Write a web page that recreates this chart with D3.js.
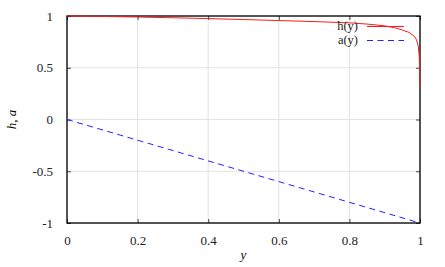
<!DOCTYPE html>
<html>
<head>
<meta charset="utf-8">
<script src="https://cdn.jsdelivr.net/npm/d3@7"></script>
<style>
  body { margin: 0; background: #fff; }
</style>
</head>
<body>
<script>
const width = 445
const height = 267
const margin = { top: 16, right: 25, bottom: 44, left: 67 }

// h(y)
const hX = [0, 0.1, 0.2, 0.3, 0.4, 0.5, 0.6, 0.7, 0.8, 0.85, 0.9, 0.93, 0.95, 0.97, 0.985, 0.99, 0.995, 0.998, 0.999, 1.0]
const hY = [1.0, 0.996, 0.99, 0.983, 0.975, 0.966, 0.956, 0.946, 0.934, 0.922, 0.905, 0.885, 0.865, 0.84, 0.80, 0.77, 0.71, 0.6, 0.45, 0.31]
// a(y) = -y
const aX = [0, 1]
const aY = [0, -1]

const xTicks = [0, 0.2, 0.4, 0.6, 0.8, 1]
const yTicks = [-1, -0.5, 0, 0.5, 1]

const svg = d3.select("body")
    .append("svg")
    .attr("width", width)
    .attr("height", height)

const w = width - margin.left - margin.right
const h = height - margin.top - margin.bottom

const x = d3.scaleLinear().domain([0, 1]).range([0, w])
const y = d3.scaleLinear().domain([-1, 1]).range([h, 0])

const chart = svg.append("g")
    .attr("transform", `translate(${margin.left},${margin.top})`)

// grid
chart.append("g")
    .selectAll("line")
    .data(xTicks)
    .join("line")
    .attr("x1", d => x(d)).attr("x2", d => x(d))
    .attr("y1", 0).attr("y2", h)
    .attr("stroke", "#e2e2e2")
chart.append("g")
    .selectAll("line")
    .data(yTicks)
    .join("line")
    .attr("x1", 0).attr("x2", w)
    .attr("y1", d => y(d)).attr("y2", d => y(d))
    .attr("stroke", "#e2e2e2")

// plain hyphen minus like the original
const fmt = d => String(d)
chart.append("g")
    .attr("transform", `translate(0,${h})`)
    .call(d3.axisBottom(x).tickValues(xTicks).tickFormat(fmt).tickSizeInner(-4).tickSizeOuter(0).tickPadding(13))
chart.append("g")
    .call(d3.axisTop(x).tickValues(xTicks).tickFormat("").tickSizeInner(-4).tickSizeOuter(0))
chart.append("g")
    .call(d3.axisLeft(y).tickValues(yTicks).tickFormat(fmt).tickSizeInner(-4).tickSizeOuter(0).tickPadding(14))
chart.append("g")
    .attr("transform", `translate(${w},0)`)
    .call(d3.axisRight(y).tickValues(yTicks).tickFormat("").tickSizeInner(-4).tickSizeOuter(0))

chart.selectAll(".domain").remove()
chart.selectAll(".tick line").attr("stroke", "#444")
chart.selectAll(".tick text")
    .attr("font-size", 13)
    .attr("fill", "#222")

chart.append("rect")
    .attr("width", w).attr("height", h)
    .attr("fill", "none")
    .attr("stroke", "#000")
    .attr("stroke-width", 1.3)

// curves
const line = d3.line()
    .x(d => x(d[0]))
    .y(d => y(d[1]))

chart.append("path")
    .attr("d", line(aX.map((v, i) => [v, aY[i]])))
    .attr("fill", "none")
    .attr("stroke", "#2222ff")
    .attr("stroke-dasharray", "6,4.5")

chart.append("path")
    .attr("d", line(hX.map((v, i) => [v, hY[i]])))
    .attr("fill", "none")
    .attr("stroke", "#ff1a1a")

// legend
const legend = [
    { label: "h(y)", color: "#ff1a1a", dash: null },
    { label: "a(y)", color: "#2222ff", dash: "6,4.5" }
]
const lg = svg.append("g")
lg.selectAll("text")
    .data(legend)
    .join("text")
    .attr("x", 358)
    .attr("y", (d, i) => 30 + i * 14)
    .attr("text-anchor", "end")
    .attr("font-size", 12.5)
    .attr("fill", "#222")
    .text(d => d.label)
lg.selectAll("line")
    .data(legend)
    .join("line")
    .attr("x1", 367).attr("x2", 404)
    .attr("y1", (d, i) => 26.5 + i * 14)
    .attr("y2", (d, i) => 26.5 + i * 14)
    .attr("stroke", d => d.color)
    .attr("stroke-dasharray", d => d.dash)

// axis labels
svg.append("text")
    .attr("x", margin.left + w / 2)
    .attr("y", 259)
    .attr("text-anchor", "middle")
    .attr("font-size", 13)
    .attr("font-style", "italic")
    .text("y")
svg.append("text")
    .attr("transform", `translate(16,${margin.top + h / 2}) rotate(-90)`)
    .attr("text-anchor", "middle")
    .attr("font-size", 13)
    .attr("font-style", "italic")
    .text("h, a")

svg.selectAll("text").style("font-family", "'Liberation Serif', 'Times New Roman', Times, serif")
</script>
</body>
</html>
